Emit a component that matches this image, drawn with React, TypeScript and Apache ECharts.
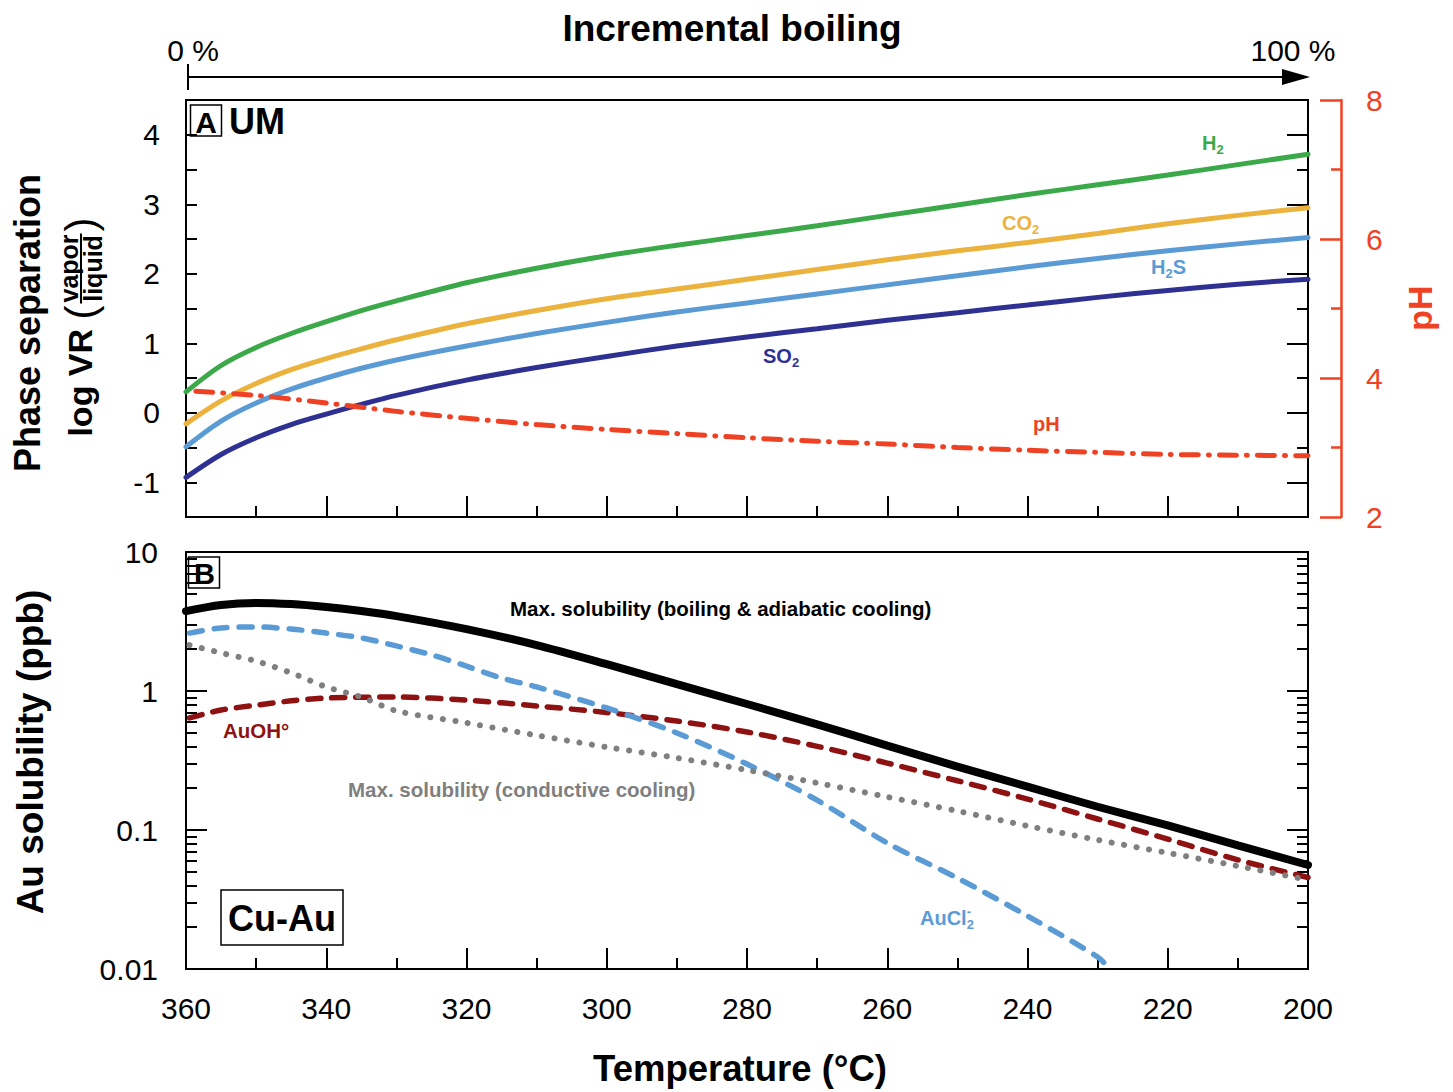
import React, { useEffect, useRef } from "react";
import * as echarts from "echarts";

const FONT = "'Liberation Sans', Arial, Helvetica, sans-serif";

// ---------- Panel A: phase separation (log VR) ----------
const tempsTop = [360, 355, 350, 345, 340, 335, 330, 320, 310, 300, 290, 280, 270, 260, 250, 240, 230, 220, 210, 200];
const h2 = [0.30, 0.68, 0.94, 1.14, 1.31, 1.47, 1.61, 1.87, 2.08, 2.26, 2.41, 2.55, 2.69, 2.84, 2.99, 3.14, 3.28, 3.42, 3.57, 3.72];
const co2 = [-0.16, 0.17, 0.42, 0.62, 0.78, 0.92, 1.05, 1.28, 1.47, 1.64, 1.78, 1.92, 2.06, 2.20, 2.33, 2.45, 2.58, 2.72, 2.84, 2.95];
const h2s = [-0.49, -0.12, 0.14, 0.34, 0.50, 0.64, 0.76, 0.96, 1.14, 1.30, 1.45, 1.58, 1.71, 1.84, 1.97, 2.10, 2.22, 2.33, 2.43, 2.52];
const so2 = [-0.93, -0.60, -0.36, -0.17, -0.02, 0.12, 0.25, 0.47, 0.65, 0.81, 0.96, 1.09, 1.21, 1.33, 1.44, 1.55, 1.66, 1.76, 1.85, 1.92];
const phTemps = [358.6, 350, 340, 330, 320, 310, 300, 290, 280, 270, 260, 250, 240, 230, 220, 210, 200];
const ph = [3.81, 3.75, 3.64, 3.52, 3.42, 3.33, 3.26, 3.20, 3.14, 3.09, 3.05, 3.00, 2.96, 2.93, 2.90, 2.89, 2.88];

// ---------- Panel B: Au solubility (ppb) ----------
const tempsBoil = [360, 355, 350, 345, 340, 335, 330, 320, 310, 300, 290, 280, 270, 260, 250, 240, 230, 220, 210, 200];
const maxBoil = [3.76, 4.16, 4.30, 4.22, 4.02, 3.76, 3.46, 2.79, 2.14, 1.56, 1.12, 0.806, 0.575, 0.405, 0.286, 0.205, 0.147, 0.108, 0.0775, 0.056];
const tempsCl = [359.5, 355, 350, 345, 340, 335, 330, 325, 320, 315, 310, 300, 290, 280, 270, 260, 250, 240, 230, 228.3];
const auCl2 = [2.61, 2.84, 2.89, 2.79, 2.61, 2.41, 2.11, 1.82, 1.51, 1.24, 1.07, 0.755, 0.499, 0.298, 0.164, 0.0806, 0.0451, 0.0241, 0.0122, 0.01];
const tempsOH = [359.5, 355, 350, 345, 340, 330, 320, 310, 300, 290, 280, 270, 260, 250, 240, 230, 220, 210, 200];
const auOH = [0.64, 0.73, 0.79, 0.85, 0.89, 0.905, 0.86, 0.78, 0.70, 0.608, 0.507, 0.400, 0.303, 0.226, 0.167, 0.120, 0.086, 0.061, 0.0455];
const tempsCond = [359.5, 355, 350, 345, 340, 335, 330, 320, 310, 300, 290, 280, 270, 260, 250, 240, 230, 220, 210, 200];
const maxCond = [2.14, 1.88, 1.64, 1.35, 1.07, 0.905, 0.72, 0.59, 0.48, 0.395, 0.33, 0.27, 0.218, 0.173, 0.137, 0.107, 0.0848, 0.0684, 0.0551, 0.0437];

// ---------- Axis tick values ----------
const leftLabelValues = [-1, 0, 1, 2, 3, 4];
const halfTickValues = [-1.5, -1, -0.5, 0, 0.5, 1, 1.5, 2, 2.5, 3, 3.5, 4, 4.5];
const intTickValues = [-1, 0, 1, 2, 3, 4];
const halfOnlyTickValues = [-1.5, -0.5, 0.5, 1.5, 2.5, 3.5, 4.5];
const logMinorTicks = [0.02, 0.03, 0.04, 0.05, 0.06, 0.07, 0.08, 0.09, 0.2, 0.3, 0.4, 0.5, 0.6, 0.7, 0.8, 0.9, 2, 3, 4, 5, 6, 7, 8, 9];

const GREEN = "#3BA949";
const ORANGE = "#EBB23D";
const LBLUE = "#5B9BD5";
const NAVY = "#2E3192";
const RED = "#EF4123";
const DRED = "#8E1212";
const GRAY = "#7F7F7F";

let measureCtx: CanvasRenderingContext2D | null = null;
function tw(text: string, size: number, bold: boolean): number {
  if (!measureCtx) {
    const c = document.createElement("canvas");
    measureCtx = c.getContext("2d");
  }
  if (!measureCtx) return text.length * size * 0.55;
  measureCtx.font = `${bold ? "bold " : ""}${size}px ${FONT}`;
  return measureCtx.measureText(text).width;
}

function txt(x: number, y: number, text: string, size: number, color: string, bold: boolean, align = "left", valign = "middle") {
  return {
    type: "text",
    x,
    y,
    z: 100,
    style: {
      text,
      font: `${bold ? "bold " : ""}${size}px ${FONT}`,
      fill: color,
      textAlign: align,
      textVerticalAlign: valign,
      align,
      verticalAlign: valign,
    },
  };
}

type Part = { t: string; k?: "sub" | "sup" | "supNoAdv" };
function richLabel(x: number, y: number, parts: Part[], size: number, color: string, bold = true) {
  const children: any[] = [];
  let cx = 0;
  for (const p of parts) {
    const s = p.k ? Math.round(size * 0.65) : size;
    const dy = p.k === "sub" ? size * 0.3 : p.k ? -size * 0.33 : 0;
    children.push(txt(cx, dy, p.t, s, color, bold));
    if (p.k !== "supNoAdv") cx += tw(p.t, s, bold);
  }
  return { type: "group", x, y, z: 100, children };
}

function pairs(xs: number[], ys: number[]) {
  return xs.map((x, i) => [x, ys[i]]);
}

function buildOption() {
  const axisLine = { show: true, onZero: false, lineStyle: { color: "#000", width: 2 } };
  const tickStyle = { color: "#000", width: 2 };

  // y-axis title for panel A with fraction
  const fsA = 34;
  const fsF = 25;
  const w1 = tw("log VR ", fsA, true);
  const wp = tw("(", 42, false);
  const wf = Math.max(tw("vapor", fsF, true), tw("liquid", fsF, true)) + 6;
  const total = w1 + wp + wf + wp;
  const lx0 = -total / 2;
  const fx = lx0 + w1 + wp + wf / 2;
  const logVR = {
    type: "group",
    x: 80,
    y: 327,
    rotation: Math.PI / 2,
    z: 100,
    children: [
      txt(lx0, 0, "log VR ", fsA, "#000", true),
      txt(lx0 + w1, 0, "(", 42, "#000", false),
      txt(fx, -11, "vapor", fsF, "#000", true, "center"),
      {
        type: "line",
        shape: { x1: fx - wf / 2 + 2, y1: 1, x2: fx + wf / 2 - 2, y2: 1 },
        style: { stroke: "#000", lineWidth: 2 },
      },
      txt(fx, 13, "liquid", fsF, "#000", true, "center"),
      txt(lx0 + w1 + wp + wf, 0, ")", 42, "#000", false),
    ],
  };

  const rotTitle = (x: number, y: number, text: string, size: number, color: string) => ({
    type: "group",
    x,
    y,
    rotation: Math.PI / 2,
    z: 100,
    children: [txt(0, 0, text, size, color, true, "center")],
  });

  const graphic: any[] = [
    txt(732, 28, "Incremental boiling", 37, "#000", true, "center"),
    txt(193, 50, "0 %", 30, "#000", false, "center"),
    txt(1293, 50, "100 %", 30, "#000", false, "center"),
    { type: "line", z: 100, shape: { x1: 188, y1: 77, x2: 1288, y2: 77 }, style: { stroke: "#000", lineWidth: 2 } },
    { type: "line", z: 100, shape: { x1: 188, y1: 64, x2: 188, y2: 90 }, style: { stroke: "#000", lineWidth: 2 } },
    { type: "polygon", z: 100, shape: { points: [[1282, 69], [1310, 77], [1282, 85]] }, style: { fill: "#000" } },
    // panel tags
    { type: "rect", z: 100, shape: { x: 190.5, y: 105, width: 31, height: 31 }, style: { fill: "none", stroke: "#000", lineWidth: 1.5 } },
    txt(206, 122, "A", 30, "#000", true, "center"),
    txt(229, 121, "UM", 36, "#000", true, "left"),
    { type: "rect", z: 100, shape: { x: 188.5, y: 557, width: 31, height: 31 }, style: { fill: "none", stroke: "#000", lineWidth: 1.5 } },
    txt(204.5, 574, "B", 29, "#000", true, "center"),
    { type: "rect", z: 100, shape: { x: 221, y: 890, width: 122, height: 55 }, style: { fill: "#fff", stroke: "#000", lineWidth: 1.5 } },
    txt(282, 918, "Cu-Au", 36, "#000", true, "center"),
    // series labels panel A
    richLabel(1202, 143, [{ t: "H" }, { t: "2", k: "sub" }], 20, GREEN),
    richLabel(1002, 223, [{ t: "CO" }, { t: "2", k: "sub" }], 20, ORANGE),
    richLabel(1151, 267, [{ t: "H" }, { t: "2", k: "sub" }, { t: "S" }], 20, LBLUE),
    richLabel(763, 356, [{ t: "SO" }, { t: "2", k: "sub" }], 20, NAVY),
    txt(1033, 424, "pH", 20, RED, true, "left"),
    // series labels panel B
    txt(510, 608, "Max. solubility (boiling & adiabatic cooling)", 20.5, "#000", true, "left"),
    txt(223, 730, "AuOH°", 20.5, DRED, true, "left"),
    txt(348, 789, "Max. solubility (conductive cooling)", 20.5, GRAY, true, "left"),
    richLabel(920, 918, [{ t: "AuCl" }, { t: "-", k: "supNoAdv" }, { t: "2", k: "sub" }], 20, LBLUE),
    // axis titles
    rotTitle(27, 323, "Phase separation", 36, "#000"),
    logVR,
    rotTitle(30, 752, "Au solubility (ppb)", 37, "#000"),
    rotTitle(1420, 308, "pH", 34, RED),
    txt(740, 1068, "Temperature (°C)", 36.5, "#000", true, "center"),
  ];

  const xCommon = {
    type: "value",
    min: 200,
    max: 360,
    interval: 20,
    inverse: true,
    axisLine,
    axisTick: { inside: true, length: 21, lineStyle: tickStyle },
    minorTick: { show: true, splitNumber: 2, length: 11, lineStyle: tickStyle },
    splitLine: { show: false },
    minorSplitLine: { show: false },
  };

  const logFmt = (v: number) => String(parseFloat(Number(v).toPrecision(6)));

  return {
    animation: false,
    backgroundColor: "#fff",
    textStyle: { fontFamily: FONT },
    grid: [
      { left: 186, top: 100, width: 1122, height: 417, show: true, borderColor: "#000", borderWidth: 2, backgroundColor: "transparent" },
      { left: 186, top: 552, width: 1122, height: 417, show: true, borderColor: "#000", borderWidth: 2, backgroundColor: "transparent" },
    ],
    xAxis: [
      { ...xCommon, gridIndex: 0, position: "bottom", axisLabel: { show: false } },
      { ...xCommon, gridIndex: 1, position: "bottom", axisLabel: { show: true, fontSize: 30, color: "#000", margin: 24, fontFamily: FONT } },
    ],
    yAxis: [
      {
        gridIndex: 0, type: "value", position: "left", min: -1.5, max: 4.5, interval: 0.5,
        axisLine, splitLine: { show: false },
        axisTick: { inside: true, length: 11, lineStyle: tickStyle, customValues: halfTickValues },
        axisLabel: { fontSize: 30, color: "#000", margin: 26, fontFamily: FONT, customValues: leftLabelValues },
      },
      {
        gridIndex: 0, type: "value", position: "right", min: -1.5, max: 4.5, interval: 0.5,
        axisLine, splitLine: { show: false }, axisLabel: { show: false },
        axisTick: { inside: true, length: 21, lineStyle: tickStyle, customValues: intTickValues },
      },
      {
        gridIndex: 0, type: "value", position: "right", min: -1.5, max: 4.5, interval: 0.5,
        axisLine: { show: false }, splitLine: { show: false }, axisLabel: { show: false },
        axisTick: { inside: true, length: 11, lineStyle: tickStyle, customValues: halfOnlyTickValues },
      },
      {
        gridIndex: 0, type: "value", position: "right", offset: 33, min: 2, max: 8, interval: 2,
        axisLine: { show: true, lineStyle: { color: RED, width: 2.5 } },
        splitLine: { show: false },
        axisTick: { inside: true, length: 21, lineStyle: { color: RED, width: 2.5 } },
        minorTick: { show: true, splitNumber: 2, length: 10, lineStyle: { color: RED, width: 2.5 } },
        minorSplitLine: { show: false },
        axisLabel: { fontSize: 30, color: RED, margin: 25, fontFamily: FONT },
      },
      {
        gridIndex: 1, type: "log", logBase: 10, position: "left", min: 0.01, max: 10,
        axisLine, splitLine: { show: false },
        axisTick: { inside: true, length: 21, lineStyle: tickStyle },
        axisLabel: { fontSize: 30, color: "#000", margin: 28, fontFamily: FONT, formatter: logFmt },
      },
      {
        gridIndex: 1, type: "log", logBase: 10, position: "left", min: 0.01, max: 10,
        axisLine: { show: false }, splitLine: { show: false }, axisLabel: { show: false },
        axisTick: { inside: true, length: 11, lineStyle: tickStyle, customValues: logMinorTicks },
      },
      {
        gridIndex: 1, type: "log", logBase: 10, position: "right", min: 0.01, max: 10,
        axisLine, splitLine: { show: false }, axisLabel: { show: false },
        axisTick: { inside: true, length: 21, lineStyle: tickStyle },
      },
      {
        gridIndex: 1, type: "log", logBase: 10, position: "right", min: 0.01, max: 10,
        axisLine: { show: false }, splitLine: { show: false }, axisLabel: { show: false },
        axisTick: { inside: true, length: 11, lineStyle: tickStyle, customValues: logMinorTicks },
      },
    ],
    series: [
      { type: "line", xAxisIndex: 0, yAxisIndex: 0, data: pairs(tempsTop, h2), smooth: 0.3, symbol: "none", lineStyle: { color: GREEN, width: 5, cap: "round" }, z: 3 },
      { type: "line", xAxisIndex: 0, yAxisIndex: 0, data: pairs(tempsTop, co2), smooth: 0.3, symbol: "none", lineStyle: { color: ORANGE, width: 5, cap: "round" }, z: 3 },
      { type: "line", xAxisIndex: 0, yAxisIndex: 0, data: pairs(tempsTop, h2s), smooth: 0.3, symbol: "none", lineStyle: { color: LBLUE, width: 5, cap: "round" }, z: 3 },
      { type: "line", xAxisIndex: 0, yAxisIndex: 0, data: pairs(tempsTop, so2), smooth: 0.3, symbol: "none", lineStyle: { color: NAVY, width: 5, cap: "round" }, z: 3 },
      { type: "line", xAxisIndex: 0, yAxisIndex: 3, data: pairs(phTemps, ph), smooth: 0.3, symbol: "none", lineStyle: { color: RED, width: 5, cap: "round", type: [17, 10, 1, 10] }, z: 3 },

      { type: "line", xAxisIndex: 1, yAxisIndex: 4, data: pairs(tempsOH, auOH), smooth: 0.3, symbol: "none", lineStyle: { color: DRED, width: 5.5, cap: "round", type: [13, 11] }, z: 3 },
      { type: "line", xAxisIndex: 1, yAxisIndex: 4, data: pairs(tempsCl, auCl2), smooth: 0.3, symbol: "none", lineStyle: { color: LBLUE, width: 5.5, cap: "round", type: [13, 12] }, z: 3 },
      { type: "line", xAxisIndex: 1, yAxisIndex: 4, data: pairs(tempsCond, maxCond), smooth: 0.3, symbol: "none", lineStyle: { color: GRAY, width: 6, cap: "round", type: [0.1, 12.5] }, z: 4 },
      { type: "line", xAxisIndex: 1, yAxisIndex: 4, data: pairs(tempsBoil, maxBoil), smooth: 0.3, symbol: "none", lineStyle: { color: "#000", width: 8, cap: "round" }, z: 5 },
    ],
    graphic,
  };
}

export default function App() {
  const ref = useRef<HTMLDivElement>(null);
  useEffect(() => {
    if (!ref.current) return;
    const chart = echarts.init(ref.current, null, { renderer: "svg" });
    chart.setOption(buildOption() as any);
    return () => chart.dispose();
  }, []);
  return (
    <div
      ref={ref}
      style={{ position: "absolute", left: 0, top: 0, width: 1453, height: 1092, background: "#fff" }}
    />
  );
}
